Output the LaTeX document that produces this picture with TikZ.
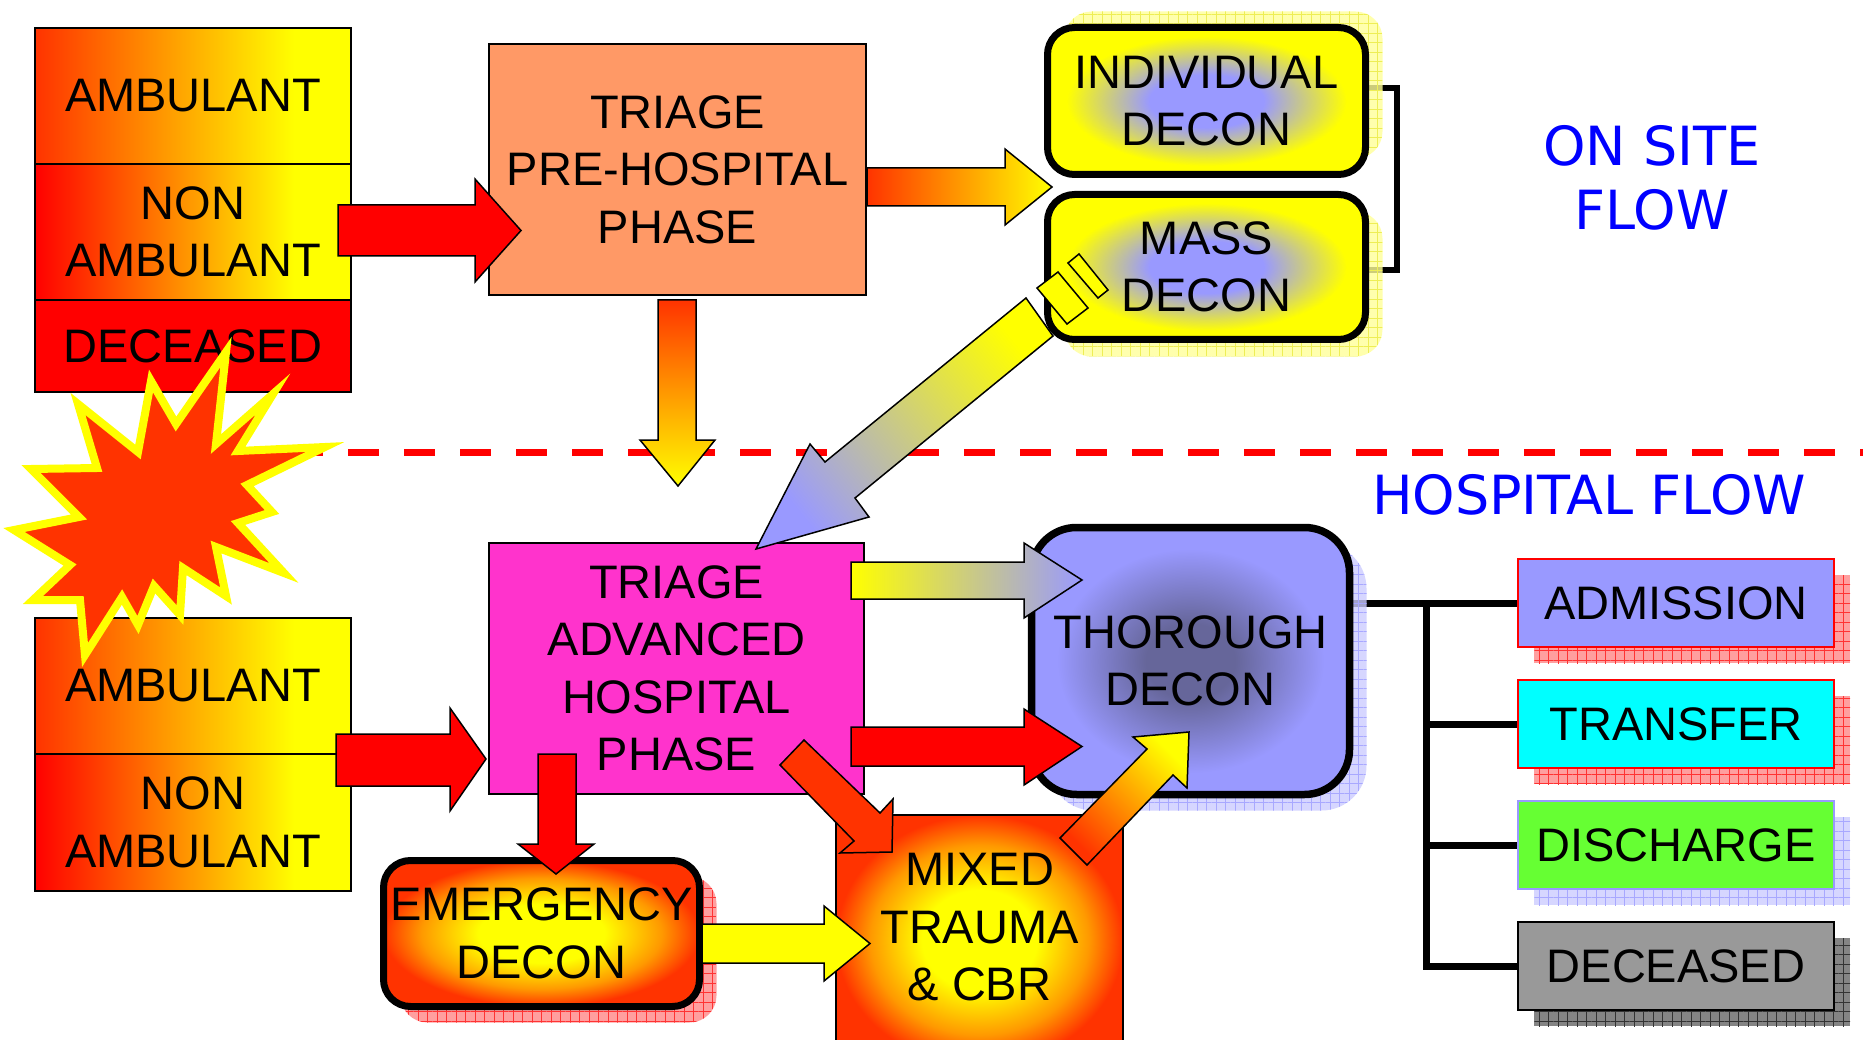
\documentclass[tikz,border=0pt]{standalone}
\usepackage{fontspec}
\setmainfont{Liberation Sans}
\newfontfamily\bluefont{DejaVu Sans}
\usetikzlibrary{patterns.meta,shadows}
\definecolor{rorange}{HTML}{FF3300}
\definecolor{fireor}{HTML}{FF9900}
\definecolor{lblue}{HTML}{9999FF}
\definecolor{salmon}{HTML}{FF9966}
\definecolor{magentb}{HTML}{FF33CC}
\definecolor{dblue}{HTML}{66669A}
\definecolor{cyanb}{HTML}{00FFFF}
\definecolor{greenb}{HTML}{66FF33}
\definecolor{grayb}{HTML}{999999}
\definecolor{txtblue}{HTML}{0000FF}
\definecolor{yelb}{HTML}{FFFF00}
\definecolor{redb}{HTML}{FF0000}
\definecolor{shY}{HTML}{FFFF99}
\definecolor{shYl}{HTML}{EEEE55}
\definecolor{shR}{HTML}{FF8888}
\definecolor{shRl}{HTML}{FF3333}
\definecolor{shB}{HTML}{CCCCFF}
\definecolor{shBl}{HTML}{A8A8FF}
\definecolor{shG}{HTML}{666666}
\definecolor{shGl}{HTML}{333333}
\pgfdeclareradialshading{deconsh}{\pgfpointorigin}{color(0bp)=(lblue); color(9bp)=(lblue); color(22bp)=(yelb); color(50bp)=(yelb)}
\pgfdeclareradialshading{thorsh}{\pgfpointorigin}{color(0bp)=(dblue); color(7bp)=(dblue); color(21bp)=(lblue); color(50bp)=(lblue)}
\pgfdeclareradialshading{firesh}{\pgfpointorigin}{color(0bp)=(yelb); color(10bp)=(yelb); color(19bp)=(fireor); color(25bp)=(rorange); color(50bp)=(rorange)}
\pgfdeclarehorizontalshading{ambsh}{100bp}{color(0bp)=(rorange); color(25bp)=(rorange); color(66bp)=(yelb); color(100bp)=(yelb)}
\pgfdeclarehorizontalshading{nonsh}{100bp}{color(0bp)=(redb); color(25bp)=(redb); color(66bp)=(yelb); color(100bp)=(yelb)}
\pgfdeclarelayer{bg}
\pgfsetlayers{bg,main}
\tikzset{
  lbl/.style={font=\fontsize{47}{57.5}\selectfont, align=center, inner sep=0pt, text=black},
  sqbox/.style={lbl, draw=black, line width=1.5pt, rectangle},
  rbox/.style={lbl, draw=black, line width=7pt, rounded corners=27pt, rectangle},
  shadowA/.style n args={4}{general shadow={shadow xshift=#1, shadow yshift=#2, fill=#3, fill opacity=0.8},
                            general shadow={shadow xshift=#1, shadow yshift=#2, pattern={Hatch[distance=9.5pt, line width=0.9pt]}, pattern color=#4}},
  barrow/.style={draw=black, line width=1.5pt, line join=miter},
  bluetxt/.style={font=\bluefont\fontsize{54}{64.5}\selectfont, text=txtblue, align=center, inner sep=0pt},
  conn/.style={draw=black, line width=7pt, line join=miter},
}
\begin{document}
\begin{tikzpicture}[x=1pt,y=-1pt]
\useasboundingbox (0,0) rectangle (1863,1040);
\clip (0,0) rectangle (1863,1040);

% ---- boxes ----
\node[sqbox, shade, shading=ambsh, minimum width=316, minimum height=136] (amb1) at (193,96) {AMBULANT};
\node[sqbox, shade, shading=nonsh, minimum width=316, minimum height=136] (non1) at (193,232) {NON\\AMBULANT};
\node[sqbox, fill=redb, minimum width=316, minimum height=92] (dec1) at (193,346) {DECEASED};

\node[sqbox, fill=salmon, line width=2pt, minimum width=377, minimum height=251] (tpre) at (677.5,169.5) {TRIAGE\\PRE-HOSPITAL\\PHASE};

\node[rbox, shade, shading=deconsh, minimum width=318, minimum height=147, shadowA={17pt}{16pt}{shY}{shYl}] (indiv) at (1206.5,101) {INDIVIDUAL\\DECON};
\node[rbox, shade, shading=deconsh, minimum width=318, minimum height=145, shadowA={17pt}{-17pt}{shY}{shYl}] (mass) at (1206.5,267) {MASS\\DECON};

\node[sqbox, fill=magentb, minimum width=375, minimum height=251] (tadv) at (676.5,668.5) {TRIAGE\\ADVANCED\\HOSPITAL\\PHASE};

\node[sqbox, shade, shading=ambsh, minimum width=316, minimum height=136] (amb2) at (193,686) {AMBULANT};
\node[sqbox, shade, shading=nonsh, minimum width=316, minimum height=137] (non2) at (193,822.5) {NON\\AMBULANT};

\node[rbox, shade, shading=firesh, minimum width=316, minimum height=146, shadowA={17pt}{-16pt}{shR}{shRl}] (emer) at (541.5,933.5) {EMERGENCY\\DECON};

\node[rbox, shade, shading=thorsh, rounded corners=45pt, line width=7.5pt, minimum width=318, minimum height=267, shadowA={17pt}{-16pt}{shB}{shBl}] (thor) at (1190.5,661) {THOROUGH\\DECON};

\node[sqbox, shade, shading=firesh, minimum width=287, minimum height=250] (mixbox) at (979.5,940) {};
\node[lbl] (mixed) at (979.5,927.5) {MIXED\\TRAUMA\\\& CBR};

\node[sqbox, line width=2pt, draw=redb, fill=lblue, minimum width=316, minimum height=88, shadowA={16pt}{-16pt}{shR}{shRl}] (adm) at (1676,603) {ADMISSION};
\node[sqbox, line width=2pt, draw=redb, fill=cyanb, minimum width=316, minimum height=88, shadowA={16pt}{-16pt}{shR}{shRl}] (trn) at (1676,724) {TRANSFER};
\node[sqbox, line width=2pt, draw=lblue, fill=greenb, minimum width=316, minimum height=88, shadowA={16pt}{-16pt}{shB}{shBl}] (dis) at (1676,845) {DISCHARGE};
\node[sqbox, line width=2pt, draw=black, fill=grayb, minimum width=316, minimum height=88, shadowA={16pt}{-16pt}{shG}{shGl}] (dec2) at (1676,966) {DECEASED};

\node[bluetxt] (onsite) at (1652,178) {ON SITE\\FLOW};
\node[bluetxt] (hosp) at (1589,495) {HOSPITAL FLOW};

% ---- connectors (behind the shadows) ----
\begin{pgfonlayer}{bg}
\fill[white] (0,0) rectangle (1863,1040);
\coordinate (bkt) at (1397,88);
\coordinate (bkb) at (1397,270);
\draw[draw=black, line width=6.5pt, line join=miter] ([yshift=13pt]indiv.east) -- (bkt) -- (bkb) -- (mass.east |- bkb);
\coordinate (tj) at (1426,603);
\draw[conn] (thor.east |- adm.west) -- (adm.west);
\draw[conn] (tj) |- (dec2.west);
\draw[conn] (tj |- trn.west) -- (trn.west);
\draw[conn] (tj |- dis.west) -- (dis.west);
\end{pgfonlayer}

% ---- divider ----
\draw[redb, line width=7pt, dash pattern=on 31pt off 25pt] (292,452) -- (1863,452);

% ---- block arrows ----
\path[barrow, fill=redb] (338,205) -- (475,205) -- (475,179) -- (521,230.5) -- (475,282) -- (475,256) -- (338,256) -- cycle;
\path[barrow, left color=rorange, right color=yelb] (867,168) -- (1005,168) -- (1005,149) -- (1052,187) -- (1005,225) -- (1005,206) -- (867,206) -- cycle;
\path[barrow, top color=rorange, bottom color=yelb] (658,300) -- (696,300) -- (696,440) -- (715,440) -- (678,486) -- (640,440) -- (658,440) -- cycle;

\path[barrow, top color=yelb, bottom color=lblue, shading angle=-51] (1026,298) -- (825,462) -- (810,444) -- (756,549) -- (869,517) -- (855,498) -- (1053,336) -- cycle;
\path[barrow, fill=yelb] (1037,288) -- (1058,272) -- (1088,308) -- (1067,324) -- cycle;
\path[barrow, fill=yelb] (1068,263) -- (1079,254) -- (1108,290) -- (1098,298) -- cycle;

\path[barrow, fill=redb] (336,734) -- (450,734) -- (450,708) -- (486,759) -- (450,811) -- (450,786) -- (336,786) -- cycle;
\path[barrow, left color=yelb, right color=lblue] (851,562) -- (1024,562) -- (1024,543) -- (1082,580) -- (1024,618) -- (1024,599) -- (851,599) -- cycle;
\path[barrow, fill=redb] (851,727) -- (1024,727) -- (1024,709) -- (1082,746.5) -- (1024,785) -- (1024,766) -- (851,766) -- cycle;
\path[barrow, fill=redb] (538,754) -- (576,754) -- (576,844) -- (594,844) -- (556,874) -- (518,844) -- (538,844) -- cycle;
\path[barrow, fill=rorange] (804,740) -- (880,813) -- (893,799) -- (892,852) -- (840,853) -- (854,841) -- (780,765) -- cycle;
\path[barrow, fill=yelb] (702,924) -- (824,924) -- (824,906) -- (870,943.5) -- (824,981) -- (824,963) -- (702,963) -- cycle;
\path[barrow, top color=yelb, bottom color=rorange, shading angle=-45] (1060,838) -- (1147,749) -- (1133,737) -- (1189,732) -- (1187,788) -- (1173,775) -- (1087,865) -- cycle;

% ---- explosion ----
\path[draw=yelb, line width=8pt, fill=rorange, line join=miter, miter limit=10]
 (226,352) -- (216,444) -- (273,394) -- (238,451) -- (325,447) -- (247,485) -- (272,512) -- (238,523) -- (284,573)
 -- (216,547) -- (226,596) -- (183,568) -- (180,615) -- (154,586) -- (138,625) -- (122,597) -- (85,655)
 -- (80,600) -- (33,600) -- (70,565) -- (14,530) -- (79,517) -- (31,469) -- (97,468) -- (78,404)
 -- (138,452) -- (151,381) -- (176,424) -- cycle;
\end{tikzpicture}
\end{document}
